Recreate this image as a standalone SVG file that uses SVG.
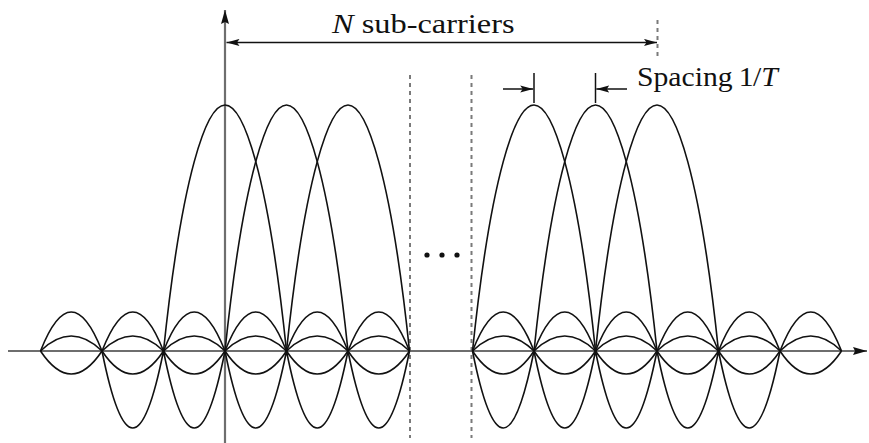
<svg xmlns="http://www.w3.org/2000/svg" width="869" height="443" viewBox="0 0 869 443">
<style>
.axis{stroke:#6e6e6e;stroke-width:2.2;fill:none}
.curve{stroke:#111;stroke-width:1.6;fill:none}
.dot{stroke:#7a7a7a;stroke-width:2;stroke-dasharray:4 4;fill:none}
.ann{stroke:#111;stroke-width:1.5;fill:none}
.lbl{font-family:"Liberation Serif","Times New Roman",serif;font-size:27px;fill:#111}
</style>
<defs>
<marker id="ah" markerUnits="userSpaceOnUse" viewBox="-13 -4 14 8" refX="0" refY="0" markerWidth="14" markerHeight="8" orient="auto-start-reverse">
<path d="M0,0 L-13,-3.6 L-10.5,0 L-13,3.6 Z" fill="#111"/>
</marker>
<marker id="axh" markerUnits="userSpaceOnUse" viewBox="-14 -4.5 15 9" refX="0" refY="0" markerWidth="15" markerHeight="9" orient="auto">
<path d="M0,0 L-14,-4 L-12,0 L-14,4 Z" fill="#111"/>
</marker>
</defs>

<g id="dividers">
<line class="dot" x1="410" y1="75" x2="410" y2="438"/>
<line class="dot" x1="471.5" y1="75" x2="471.5" y2="438"/>
<line class="dot" x1="657.5" y1="20" x2="657.5" y2="58"/>
</g>

<g id="axes">
<line class="axis" x1="8" y1="351" x2="867" y2="351" marker-end="url(#axh)"/>
<line class="axis" x1="225" y1="443" x2="225" y2="10" marker-end="url(#axh)"/>
</g>

<g id="left-subcarriers">
<path class="curve" d="M163.5,351 C181.95,173.9 206.55,105 225,105 C243.45,105 268.05,173.9 286.5,351"/>
<path class="curve" d="M225,351 C243.45,173.9 268.05,105 286.5,105 C304.95,105 329.55,173.9 348,351"/>
<path class="curve" d="M286.5,351 C304.95,173.9 329.55,105 348,105 C366.45,105 391.05,173.9 409.5,351"/>
<path class="curve" d="M40.5,351 Q71.25,273 102,351 Q132.75,273 163.5,351 Q194.25,273 225,351 Q255.75,273 286.5,351 Q317.25,273 348,351 Q378.75,273 409.5,351"/>
<path class="curve" d="M40.5,351 Q71.25,321 102,351 Q132.75,321 163.5,351 Q194.25,321 225,351 Q255.75,321 286.5,351 Q317.25,321 348,351 Q378.75,321 409.5,351"/>
<path class="curve" d="M40.5,351 Q71.25,397 102,351 Q132.75,397 163.5,351 Q194.25,397 225,351 Q255.75,397 286.5,351 Q317.25,397 348,351 Q378.75,397 409.5,351"/>
<path class="curve" d="M102,351 Q132.75,505 163.5,351 Q194.25,505 225,351 Q255.75,505 286.5,351 Q317.25,505 348,351 Q378.75,505 409.5,351"/>
</g>

<g id="right-subcarriers">
<path class="curve" d="M472.5,351 C490.95,173.9 515.55,105 534,105 C552.45,105 577.05,173.9 595.5,351"/>
<path class="curve" d="M534,351 C552.45,173.9 577.05,105 595.5,105 C613.95,105 638.55,173.9 657,351"/>
<path class="curve" d="M595.5,351 C613.95,173.9 638.55,105 657,105 C675.45,105 700.05,173.9 718.5,351"/>
<path class="curve" d="M472.5,351 Q503.25,273 534,351 Q564.75,273 595.5,351 Q626.25,273 657,351 Q687.75,273 718.5,351 Q749.25,273 780,351 Q810.75,273 841.5,351"/>
<path class="curve" d="M472.5,351 Q503.25,321 534,351 Q564.75,321 595.5,351 Q626.25,321 657,351 Q687.75,321 718.5,351 Q749.25,321 780,351 Q810.75,321 841.5,351"/>
<path class="curve" d="M472.5,351 Q503.25,397 534,351 Q564.75,397 595.5,351 Q626.25,397 657,351 Q687.75,397 718.5,351 Q749.25,397 780,351 Q810.75,397 841.5,351"/>
<path class="curve" d="M472.5,351 Q503.25,505 534,351 Q564.75,505 595.5,351 Q626.25,505 657,351 Q687.75,505 718.5,351 Q749.25,505 780,351"/>
</g>

<g id="ellipsis">
<circle cx="427" cy="255" r="2.6" fill="#111"/>
<circle cx="442" cy="255" r="2.6" fill="#111"/>
<circle cx="457" cy="255" r="2.6" fill="#111"/>
</g>

<g id="connectors">
<line class="ann" x1="226.5" y1="42.5" x2="657" y2="42.5" marker-start="url(#ah)" marker-end="url(#ah)"/>
<line class="ann" x1="534" y1="73" x2="534" y2="103"/>
<line class="ann" x1="503" y1="89" x2="533.2" y2="89" marker-end="url(#ah)"/>
<line class="ann" x1="595.5" y1="73" x2="595.5" y2="103"/>
<line class="ann" x1="627" y1="89" x2="596.3" y2="89" marker-end="url(#ah)"/>
</g>

<g id="labels">
<text class="lbl" transform="translate(332,33) scale(1.2,1)"><tspan font-style="italic">N</tspan> sub-carriers</text>
<text class="lbl" transform="translate(637,86) scale(1.1,1)">Spacing<tspan x="92.5">1</tspan><tspan x="105.5">/</tspan><tspan x="113" font-style="italic">T</tspan></text>
</g>
</svg>
